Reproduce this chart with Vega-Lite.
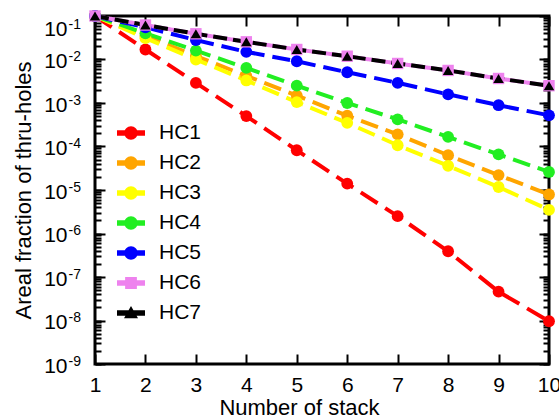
{
  "$schema": "https://vega.github.io/schema/vega-lite/v6.json",
  "width": 454,
  "height": 348,
  "autosize": "none",
  "padding": {"left": 95, "top": 16, "right": 10, "bottom": 55},
  "config": {
    "font": "Liberation Sans",
    "view": {"stroke": "black", "strokeWidth": 3},
    "axis": {"domain": false, "grid": false, "tickColor": "black", "tickWidth": 2, "labelColor": "black", "titleColor": "black", "labelFontSize": 21, "titleFontSize": 22, "titleFontWeight": "normal", "labelOverlap": false, "labelFlush": false},
    "legend": {"labelFontSize": 21, "labelColor": "black", "symbolSize": 784, "rowPadding": 6, "labelOffset": 14, "padding": 0, "symbolStrokeWidth": 0, "symbolOpacity": 1}
  },
  "datasets": {
    "d": [
      {"series": "HC1", "n": 1, "v": 0.1}, {"series": "HC1", "n": 2, "v": 0.017}, {"series": "HC1", "n": 3, "v": 0.0029}, {"series": "HC1", "n": 4, "v": 0.0005}, {"series": "HC1", "n": 5, "v": 8.2e-5}, {"series": "HC1", "n": 6, "v": 1.4e-5}, {"series": "HC1", "n": 7, "v": 2.5e-6}, {"series": "HC1", "n": 8, "v": 3.9e-7}, {"series": "HC1", "n": 9, "v": 4.6e-8}, {"series": "HC1", "n": 10, "v": 9.6e-9},
      {"series": "HC2", "n": 1, "v": 0.1}, {"series": "HC2", "n": 2, "v": 0.035}, {"series": "HC2", "n": 3, "v": 0.012}, {"series": "HC2", "n": 4, "v": 0.0042}, {"series": "HC2", "n": 5, "v": 0.00148}, {"series": "HC2", "n": 6, "v": 0.00051}, {"series": "HC2", "n": 7, "v": 0.00019}, {"series": "HC2", "n": 8, "v": 6.3e-5}, {"series": "HC2", "n": 9, "v": 2.2e-5}, {"series": "HC2", "n": 10, "v": 7.9e-6},
      {"series": "HC3", "n": 1, "v": 0.1}, {"series": "HC3", "n": 2, "v": 0.031}, {"series": "HC3", "n": 3, "v": 0.01}, {"series": "HC3", "n": 4, "v": 0.0033}, {"series": "HC3", "n": 5, "v": 0.00105}, {"series": "HC3", "n": 6, "v": 0.00035}, {"series": "HC3", "n": 7, "v": 0.000107}, {"series": "HC3", "n": 8, "v": 3.6e-5}, {"series": "HC3", "n": 9, "v": 1.17e-5}, {"series": "HC3", "n": 10, "v": 3.5e-6},
      {"series": "HC4", "n": 1, "v": 0.1}, {"series": "HC4", "n": 2, "v": 0.04}, {"series": "HC4", "n": 3, "v": 0.016}, {"series": "HC4", "n": 4, "v": 0.0064}, {"series": "HC4", "n": 5, "v": 0.0025}, {"series": "HC4", "n": 6, "v": 0.001}, {"series": "HC4", "n": 7, "v": 0.00042}, {"series": "HC4", "n": 8, "v": 0.000166}, {"series": "HC4", "n": 9, "v": 6.6e-5}, {"series": "HC4", "n": 10, "v": 2.6e-5},
      {"series": "HC5", "n": 1, "v": 0.1}, {"series": "HC5", "n": 2, "v": 0.055}, {"series": "HC5", "n": 3, "v": 0.028}, {"series": "HC5", "n": 4, "v": 0.015}, {"series": "HC5", "n": 5, "v": 0.0091}, {"series": "HC5", "n": 6, "v": 0.0051}, {"series": "HC5", "n": 7, "v": 0.0029}, {"series": "HC5", "n": 8, "v": 0.00158}, {"series": "HC5", "n": 9, "v": 0.00089}, {"series": "HC5", "n": 10, "v": 0.00052},
      {"series": "HC6", "n": 1, "v": 0.1}, {"series": "HC6", "n": 2, "v": 0.062}, {"series": "HC6", "n": 3, "v": 0.039}, {"series": "HC6", "n": 4, "v": 0.0255}, {"series": "HC6", "n": 5, "v": 0.017}, {"series": "HC6", "n": 6, "v": 0.0119}, {"series": "HC6", "n": 7, "v": 0.0081}, {"series": "HC6", "n": 8, "v": 0.0056}, {"series": "HC6", "n": 9, "v": 0.00366}, {"series": "HC6", "n": 10, "v": 0.0025},
      {"series": "HC7", "n": 1, "v": 0.1}, {"series": "HC7", "n": 2, "v": 0.062}, {"series": "HC7", "n": 3, "v": 0.039}, {"series": "HC7", "n": 4, "v": 0.0255}, {"series": "HC7", "n": 5, "v": 0.017}, {"series": "HC7", "n": 6, "v": 0.0119}, {"series": "HC7", "n": 7, "v": 0.0081}, {"series": "HC7", "n": 8, "v": 0.0056}, {"series": "HC7", "n": 9, "v": 0.00366}, {"series": "HC7", "n": 10, "v": 0.0025}
    ]
  },
  "data": {"name": "d"},
  "layer": [
    {
      "transform": [{"filter": {"field": "n", "equal": 1}}],
      "mark": {"type": "point", "filled": true, "opacity": 0},
      "encoding": {
        "x": {"field": "n", "type": "quantitative", "scale": {"domain": [1, 10], "nice": false, "zero": false}, "axis": null},
        "y": {"field": "v", "type": "quantitative", "scale": {"type": "log", "domain": [1e-9, 0.1], "nice": false}, "axis": null},
        "color": {"field": "series", "type": "nominal",
          "scale": {"domain": ["HC1", "HC2", "HC3", "HC4", "HC5", "HC6", "HC7"], "range": ["#ff0000", "#ffa500", "#ffff00", "#22ee22", "#0000ff", "#ee82ee", "#000000"]},
          "legend": {"orient": "none", "legendX": 22, "legendY": 103, "title": null, "symbolOpacity": 1, "symbolStrokeWidth": 0}},
        "shape": {"field": "series", "type": "nominal",
          "scale": {"domain": ["HC1", "HC2", "HC3", "HC4", "HC5", "HC6", "HC7"],
            "range": [
              "M-1,-0.2H1V0.2H-1Z M0.48,0A0.48,0.48,0,1,1,-0.48,0A0.48,0.48,0,1,1,0.48,0Z",
              "M-1,-0.2H1V0.2H-1Z M0.48,0A0.48,0.48,0,1,1,-0.48,0A0.48,0.48,0,1,1,0.48,0Z",
              "M-1,-0.2H1V0.2H-1Z M0.48,0A0.48,0.48,0,1,1,-0.48,0A0.48,0.48,0,1,1,0.48,0Z",
              "M-1,-0.2H1V0.2H-1Z M0.48,0A0.48,0.48,0,1,1,-0.48,0A0.48,0.48,0,1,1,0.48,0Z",
              "M-1,-0.2H1V0.2H-1Z M0.48,0A0.48,0.48,0,1,1,-0.48,0A0.48,0.48,0,1,1,0.48,0Z",
              "M-1,-0.2H1V0.2H-1Z M-0.42,-0.42H0.42V0.42H-0.42Z",
              "M-1,-0.2H1V0.2H-1Z M0,-0.5L0.5,0.38H-0.5Z"
            ]},
          "legend": {"orient": "none", "legendX": 22, "legendY": 103, "title": null, "symbolOpacity": 1, "symbolStrokeWidth": 0}}
      }
    },
    {
      "mark": {"type": "line", "strokeWidth": 4},
      "encoding": {
        "x": {"field": "n", "type": "quantitative", "scale": {"domain": [1, 10], "nice": false, "zero": false},
          "axis": {"orient": "bottom", "values": [1, 2, 3, 4, 5, 6, 7, 8, 9, 10], "format": "d", "tickSize": -10, "labelPadding": 20, "title": "Number of stack", "titleX": 204, "titlePadding": 2}},
        "y": {"field": "v", "type": "quantitative", "scale": {"type": "log", "domain": [1e-9, 0.1], "nice": false},
          "axis": {"orient": "left", "values": [1e-9, 1e-8, 1e-7, 1e-6, 1e-5, 1e-4, 0.001, 0.01, 0.1], "labelExpr": "'10'", "tickSize": -10, "labelPadding": 38, "labelOffset": 2, "labelAlign": "right",
            "labelBaseline": {"condition": {"test": "datum.value > 0.05", "value": "top"}, "value": "middle"},
            "title": "Areal fraction of thru-holes", "titlePadding": 8}},
        "color": {"field": "series", "type": "nominal"},
        "strokeDash": {"field": "series", "type": "nominal", "scale": {"range": [[20, 9], [18, 8], [18, 8], [18, 8], [18, 8], [1, 0], [14, 6]]}, "legend": null}
      }
    },
    {
      "transform": [{"filter": {"field": "series", "oneOf": ["HC1", "HC2", "HC3", "HC4", "HC5"]}}],
      "mark": {"type": "point", "filled": true, "shape": "circle", "size": 140, "opacity": 1},
      "encoding": {
        "x": {"field": "n", "type": "quantitative", "scale": {"domain": [1, 10], "nice": false, "zero": false},
          "axis": {"orient": "top", "values": [1, 2, 3, 4, 5, 6, 7, 8, 9, 10], "tickSize": -10, "labels": false, "title": null}},
        "y": {"field": "v", "type": "quantitative", "scale": {"type": "log", "domain": [1e-9, 0.1], "nice": false},
          "axis": {"orient": "left", "values": [1e-9, 2e-9, 3e-9, 4e-9, 5e-9, 6e-9, 7e-9, 8e-9, 9e-9, 1e-8, 2e-8, 3e-8, 4e-8, 5e-8, 6e-8, 7e-8, 8e-8, 9e-8, 1e-7, 2e-7, 3e-7, 4e-7, 5e-7, 6e-7, 7e-7, 8e-7, 9e-7, 1e-6, 2e-6, 3e-6, 4e-6, 5e-6, 6e-6, 7e-6, 8e-6, 9e-6, 1e-5, 2e-5, 3e-5, 4e-5, 5e-5, 6e-5, 7e-5, 8e-5, 9e-5, 1e-4, 2e-4, 3e-4, 4e-4, 5e-4, 6e-4, 7e-4, 8e-4, 9e-4, 0.001, 0.002, 0.003, 0.004, 0.005, 0.006, 0.007, 0.008, 0.009, 0.01, 0.02, 0.03, 0.04, 0.05, 0.06, 0.07, 0.08, 0.09, 0.1],
            "tickSize": -6, "labelAlign": "left", "labelPadding": 33, "labelFontSize": 14,
            "labelOffset": {"condition": {"test": "datum.value > 0.05", "value": 1}, "value": -3},
            "labelBaseline": {"condition": {"test": "datum.value > 0.05", "value": "top"}, "value": "middle"},
            "labelExpr": "abs(log(datum.value)/LN10 - round(log(datum.value)/LN10)) < 0.01 ? '-' + round(-log(datum.value)/LN10) : ''",
            "title": null}},
        "color": {"field": "series", "type": "nominal"}
      }
    },
    {
      "transform": [{"filter": {"field": "series", "equal": "HC6"}}],
      "mark": {"type": "point", "filled": true, "shape": "square", "size": 130, "opacity": 1},
      "encoding": {
        "x": {"field": "n", "type": "quantitative", "scale": {"domain": [1, 10], "nice": false, "zero": false}, "axis": null},
        "y": {"field": "v", "type": "quantitative", "scale": {"type": "log", "domain": [1e-9, 0.1], "nice": false},
          "axis": {"orient": "right", "values": [1e-9, 1e-8, 1e-7, 1e-6, 1e-5, 1e-4, 0.001, 0.01, 0.1], "tickSize": -10, "labels": false, "title": null}},
        "color": {"field": "series", "type": "nominal"}
      }
    },
    {
      "transform": [{"filter": {"field": "series", "equal": "HC7"}}],
      "mark": {"type": "point", "filled": true, "shape": "triangle-up", "size": 110, "opacity": 1},
      "encoding": {
        "x": {"field": "n", "type": "quantitative", "scale": {"domain": [1, 10], "nice": false, "zero": false}, "axis": null},
        "y": {"field": "v", "type": "quantitative", "scale": {"type": "log", "domain": [1e-9, 0.1], "nice": false},
          "axis": {"orient": "right", "values": [1e-9, 2e-9, 3e-9, 4e-9, 5e-9, 6e-9, 7e-9, 8e-9, 9e-9, 1e-8, 2e-8, 3e-8, 4e-8, 5e-8, 6e-8, 7e-8, 8e-8, 9e-8, 1e-7, 2e-7, 3e-7, 4e-7, 5e-7, 6e-7, 7e-7, 8e-7, 9e-7, 1e-6, 2e-6, 3e-6, 4e-6, 5e-6, 6e-6, 7e-6, 8e-6, 9e-6, 1e-5, 2e-5, 3e-5, 4e-5, 5e-5, 6e-5, 7e-5, 8e-5, 9e-5, 1e-4, 2e-4, 3e-4, 4e-4, 5e-4, 6e-4, 7e-4, 8e-4, 9e-4, 0.001, 0.002, 0.003, 0.004, 0.005, 0.006, 0.007, 0.008, 0.009, 0.01, 0.02, 0.03, 0.04, 0.05, 0.06, 0.07, 0.08, 0.09, 0.1],
            "tickSize": -6, "labels": false, "title": null}},
        "color": {"field": "series", "type": "nominal"}
      }
    }
  ],
  "resolve": {"axis": {"x": "independent", "y": "independent"}}
}
